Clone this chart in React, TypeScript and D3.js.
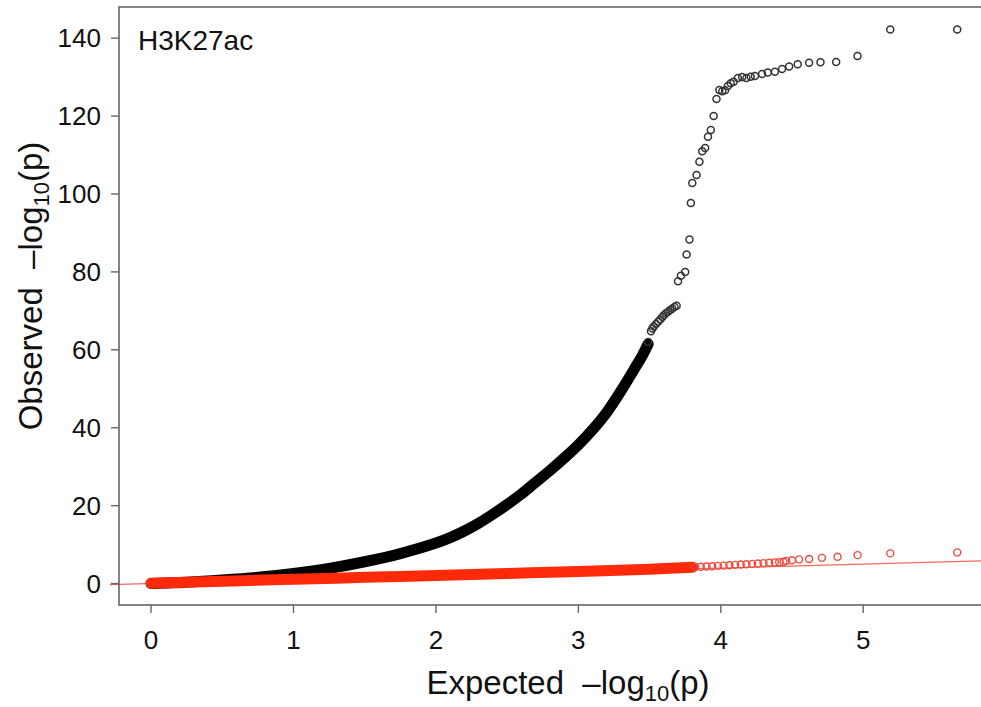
import React from "react";
import * as d3 from "d3";

const blackBand: [number, number][] = [
  [0, 0], [0.1, 0.15], [0.25, 0.35], [0.5, 0.9], [0.75, 1.6], [1.0, 2.6],
  [1.25, 3.9], [1.5, 5.6], [1.75, 7.7], [2.0, 10.4], [2.1, 11.8], [2.2, 13.5],
  [2.3, 15.5], [2.4, 17.8], [2.5, 20.3], [2.6, 23], [2.7, 26], [2.8, 29],
  [2.9, 32.2], [3.0, 35.6], [3.1, 39.5], [3.2, 44], [3.3, 49.5], [3.4, 55.5],
  [3.45, 58.6], [3.49, 61.5],
];
const blackPoints: [number, number][] = [
  [3.49, 62], [3.51, 64.8], [3.52, 65.5], [3.53, 66], [3.545, 66.6], [3.56, 67.2],
  [3.575, 67.8], [3.59, 68.4], [3.6, 68.9], [3.615, 69.4], [3.63, 69.8],
  [3.645, 70.2], [3.66, 70.6], [3.675, 71], [3.69, 71.3],
  [3.7, 77.6], [3.72, 79], [3.75, 80], [3.76, 84.5], [3.78, 88.3], [3.79, 97.7],
  [3.8, 102.8], [3.83, 104.9], [3.85, 108.3], [3.87, 111], [3.89, 111.8],
  [3.91, 114.7], [3.93, 116.4], [3.95, 120], [3.97, 124.4], [3.99, 126.7],
  [4.01, 126.4], [4.03, 126.6], [4.05, 127.7], [4.07, 128.4], [4.09, 128.8],
  [4.12, 129.8], [4.15, 130], [4.18, 129.8], [4.21, 130.1], [4.24, 130.3],
  [4.29, 130.8], [4.33, 131.2], [4.38, 131.4], [4.43, 132.1], [4.48, 132.7],
  [4.54, 133.3], [4.62, 133.7], [4.7, 133.8], [4.81, 133.9], [4.96, 135.4],
  [5.19, 142.2], [5.66, 142.2],
];
const redBand: [number, number][] = [
  [0, 0.1], [0.5, 0.6], [1, 1.1], [1.5, 1.6], [2, 2.1], [2.5, 2.6],
  [3, 3.1], [3.5, 3.7], [3.8, 4.2],
];
const redPoints: [number, number][] = [
  [3.82, 4.25], [3.86, 4.3], [3.9, 4.4], [3.94, 4.45], [3.98, 4.55], [4.02, 4.6],
  [4.06, 4.7], [4.1, 4.8], [4.14, 4.9], [4.18, 4.95], [4.22, 5.05], [4.26, 5.15],
  [4.3, 5.25], [4.34, 5.35], [4.38, 5.45], [4.41, 5.5], [4.44, 5.6], [4.46, 5.8],
  [4.5, 6.0], [4.55, 6.2], [4.62, 6.3], [4.71, 6.6], [4.82, 6.9], [4.96, 7.3],
  [5.19, 7.75], [5.66, 8.0],
];
const xTicks = [0, 1, 2, 3, 4, 5];
const yTicks = [0, 20, 40, 60, 80, 100, 120, 140];

const W = 981;
const H = 707;
const font = "'Liberation Sans', Arial, sans-serif";

export default function App() {
  const x = d3.scaleLinear().domain([-0.225, 5.855]).range([119, 985]);
  const y = d3.scaleLinear().domain([-5.5, 148]).range([605, 7]);
  const line = d3
    .line<[number, number]>()
    .x((d) => x(d[0]))
    .y((d) => y(d[1]))
    .curve(d3.curveCatmullRom);

  const [x0, x1] = x.domain();
  const [y0, y1] = y.domain();

  return (
    <div style={{ position: "fixed", left: 0, top: 0 }}>
      <svg width={W} height={H} style={{ display: "block", background: "#fff" }}>
        <defs>
          <clipPath id="plot">
            <rect x={x(x0)} y={y(y1)} width={x(x1) - x(x0)} height={y(y0) - y(y1)} />
          </clipPath>
        </defs>

        {/* diagonal reference */}
        <line
          x1={x(-0.29)} y1={y(-0.29)} x2={x(x1)} y2={y(x1)}
          stroke="#f26a5e" strokeWidth={1.2}
        />

        <g clipPath="url(#plot)">
          <path d={line(blackBand) ?? ""} fill="none" stroke="#000" strokeWidth={11} strokeLinecap="round" />
          {blackPoints.map((d, i) => (
            <circle key={"b" + i} cx={x(d[0])} cy={y(d[1])} r={3.5} fill="none" stroke="#333" strokeWidth={1.5} />
          ))}
          <path d={line(redBand) ?? ""} fill="none" stroke="#ff2a0a" strokeWidth={11} strokeLinecap="round" />
          {redPoints.map((d, i) => (
            <circle key={"r" + i} cx={x(d[0])} cy={y(d[1])} r={3.5} fill="none" stroke="#ec4a3c" strokeWidth={1.4} />
          ))}
        </g>

        {/* frame */}
        <rect x={x(x0)} y={y(y1)} width={x(x1) - x(x0)} height={y(y0) - y(y1)} fill="none" stroke="#666" strokeWidth={1.6} />

        {yTicks.map((t) => (
          <g key={"y" + t}>
            <line x1={x(x0) - 8} x2={x(x0)} y1={y(t)} y2={y(t)} stroke="#666" strokeWidth={1.4} />
            <text x={101} y={y(t) + 9} textAnchor="end" fontFamily={font} fontSize={26} fill="#111">{t}</text>
          </g>
        ))}
        {xTicks.map((t) => (
          <g key={"x" + t}>
            <line x1={x(t)} x2={x(t)} y1={y(y0)} y2={y(y0) + 8} stroke="#666" strokeWidth={1.4} />
            <text x={x(t)} y={649} textAnchor="middle" fontFamily={font} fontSize={26} fill="#111">{t}</text>
          </g>
        ))}

        <text x={138} y={50} fontFamily={font} fontSize={28} fill="#111">H3K27ac</text>

        <text x={568} y={694} textAnchor="middle" fontFamily={font} fontSize={33} fill="#111" xmlSpace="preserve">
          Expected  –log<tspan fontSize={22} dy={7}>10</tspan><tspan dy={-7}>(p)</tspan>
        </text>
        <text
          transform="translate(42,286) rotate(-90)"
          textAnchor="middle" fontFamily={font} fontSize={33} fill="#111" xmlSpace="preserve"
        >
          Observed  –log<tspan fontSize={22} dy={7}>10</tspan><tspan dy={-7}>(p)</tspan>
        </text>
      </svg>
    </div>
  );
}
